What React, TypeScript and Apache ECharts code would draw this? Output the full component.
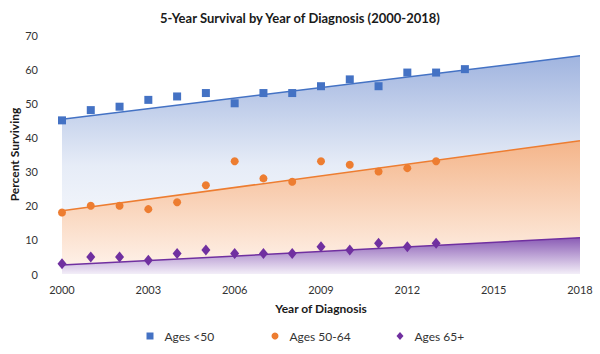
import React, { useEffect, useRef } from "react";
import * as echarts from "echarts";

const baseYear = 2000;
const endYear = 2018;
const tickStep = 3;

const yearsUnder50 = [2000, 2001, 2002, 2003, 2004, 2005, 2006, 2007, 2008, 2009, 2010, 2011, 2012, 2013, 2014];
const under50 = [45, 48, 49, 51, 52, 53, 50, 53, 53, 55, 57, 55, 59, 59, 60];

const years5064 = [2000, 2001, 2002, 2003, 2004, 2005, 2006, 2007, 2008, 2009, 2010, 2011, 2012, 2013];
const ages5064 = [18, 20, 20, 19, 21, 26, 33, 28, 27, 33, 32, 30, 31, 33];

const years65 = [2000, 2001, 2002, 2003, 2004, 2005, 2006, 2007, 2008, 2009, 2010, 2011, 2012, 2013];
const ages65 = [3, 5, 5, 4, 6, 7, 6, 6, 6, 8, 7, 9, 8, 9];

// Trendline values at 2000 and 2018
const seriesNames = ["Ages <50", "Ages 50-64", "Ages 65+"];
const trendStart = [45.3, 18.5, 2.6];
const trendEnd = [63.9, 39.0, 10.6];

const colors = ["#4472c4", "#ed7d31", "#7030a0"];
const symbols = ["rect", "circle", "diamond"];
const symbolSizes = [[8, 8], 8, [9, 11]];
const legendIconSizes = [[7, 7], [7, 7], [7, 8]];
const gradients = [
  [
    { offset: 0, color: "#a0b4df" },
    { offset: 0.5, color: "#e6ecf7" },
    { offset: 1, color: "#ffffff" },
  ],
  [
    { offset: 0, color: "#f4b58a" },
    { offset: 1, color: "#fff5ee" },
  ],
  [
    { offset: 0, color: "#8a5cb5" },
    { offset: 1, color: "#f3eef8" },
  ],
];
const legendCenters = [150, 275, 400];

const FONT = "Lato";

export default function App() {
  const ref = useRef<HTMLDivElement>(null);
  useEffect(() => {
    document.body.style.margin = "0";
    if (!ref.current) return;
    const chart = echarts.init(ref.current, undefined, { renderer: "svg" });
    const pointSets = [
      yearsUnder50.map((y, i) => [y - baseYear, under50[i]]),
      years5064.map((y, i) => [y - baseYear, ages5064[i]]),
      years65.map((y, i) => [y - baseYear, ages65[i]]),
    ];
    const trendSeries = seriesNames.map((n, i) => ({
      name: "Trend " + n,
      type: "line",
      data: [
        [0, trendStart[i]],
        [endYear - baseYear, trendEnd[i]],
      ],
      symbol: "none",
      lineStyle: { color: colors[i], width: 1.5 },
      areaStyle: {
        opacity: 1,
        color: { type: "linear", x: 0, y: 0, x2: 0, y2: 1, colorStops: gradients[i] },
      },
      z: 2 + i,
      silent: true,
    }));
    const scatterSeries = seriesNames.map((n, i) => ({
      name: n,
      type: "scatter",
      data: pointSets[i],
      symbol: symbols[i],
      symbolSize: symbolSizes[i],
      itemStyle: { color: colors[i], opacity: 1 },
      z: 10,
    }));
    chart.setOption({
      animation: false,
      textStyle: { fontFamily: FONT },
      title: {
        text: "5-Year Survival by Year of Diagnosis (2000-2018)",
        left: "center",
        top: 6,
        textStyle: { fontFamily: FONT, fontSize: 13, fontWeight: "bold", color: "#1a1a1a" },
      },
      grid: { left: 62, right: 20, top: 35, bottom: 80, outerBoundsMode: "none", containLabel: false },
      xAxis: {
        type: "value",
        min: 0,
        max: endYear - baseYear,
        interval: tickStep,
        name: "Year of Diagnosis",
        nameLocation: "middle",
        nameGap: 28,
        nameMoveOverlap: false,
        nameTextStyle: { fontFamily: FONT, fontSize: 12, fontWeight: "bold", color: "#1a1a1a" },
        axisLine: { show: false },
        axisTick: { show: false },
        splitLine: { show: false },
        axisLabel: {
          formatter: (v: number) => String(baseYear + v),
          fontFamily: FONT,
          fontSize: 11,
          color: "#333333",
          margin: 10,
        },
      },
      yAxis: {
        type: "value",
        min: 0,
        max: 70,
        interval: 10,
        name: "Percent Surviving",
        nameLocation: "middle",
        nameGap: 42,
        nameMoveOverlap: false,
        nameRotate: 90,
        nameTextStyle: { fontFamily: FONT, fontSize: 12, fontWeight: "bold", color: "#1a1a1a" },
        axisLine: { show: false },
        axisTick: { show: false },
        splitLine: { show: false },
        axisLabel: { fontFamily: FONT, fontSize: 11, color: "#333333", margin: 24 },
      },
      legend: seriesNames.map((n, i) => ({
        data: [{ name: n, icon: symbols[i] }],
        left: legendCenters[i] - legendIconSizes[i][0] / 2,
        top: 330,
        padding: 0,
        itemWidth: legendIconSizes[i][0],
        itemHeight: legendIconSizes[i][1],
        selectedMode: false,
        textStyle: { fontFamily: FONT, fontSize: 12, color: "#333333", padding: [0, 0, 0, 6] },
      })),
      series: [...trendSeries, ...scatterSeries],
    });
    return () => chart.dispose();
  }, []);
  return <div ref={ref} style={{ width: 600, height: 354 }} />;
}
